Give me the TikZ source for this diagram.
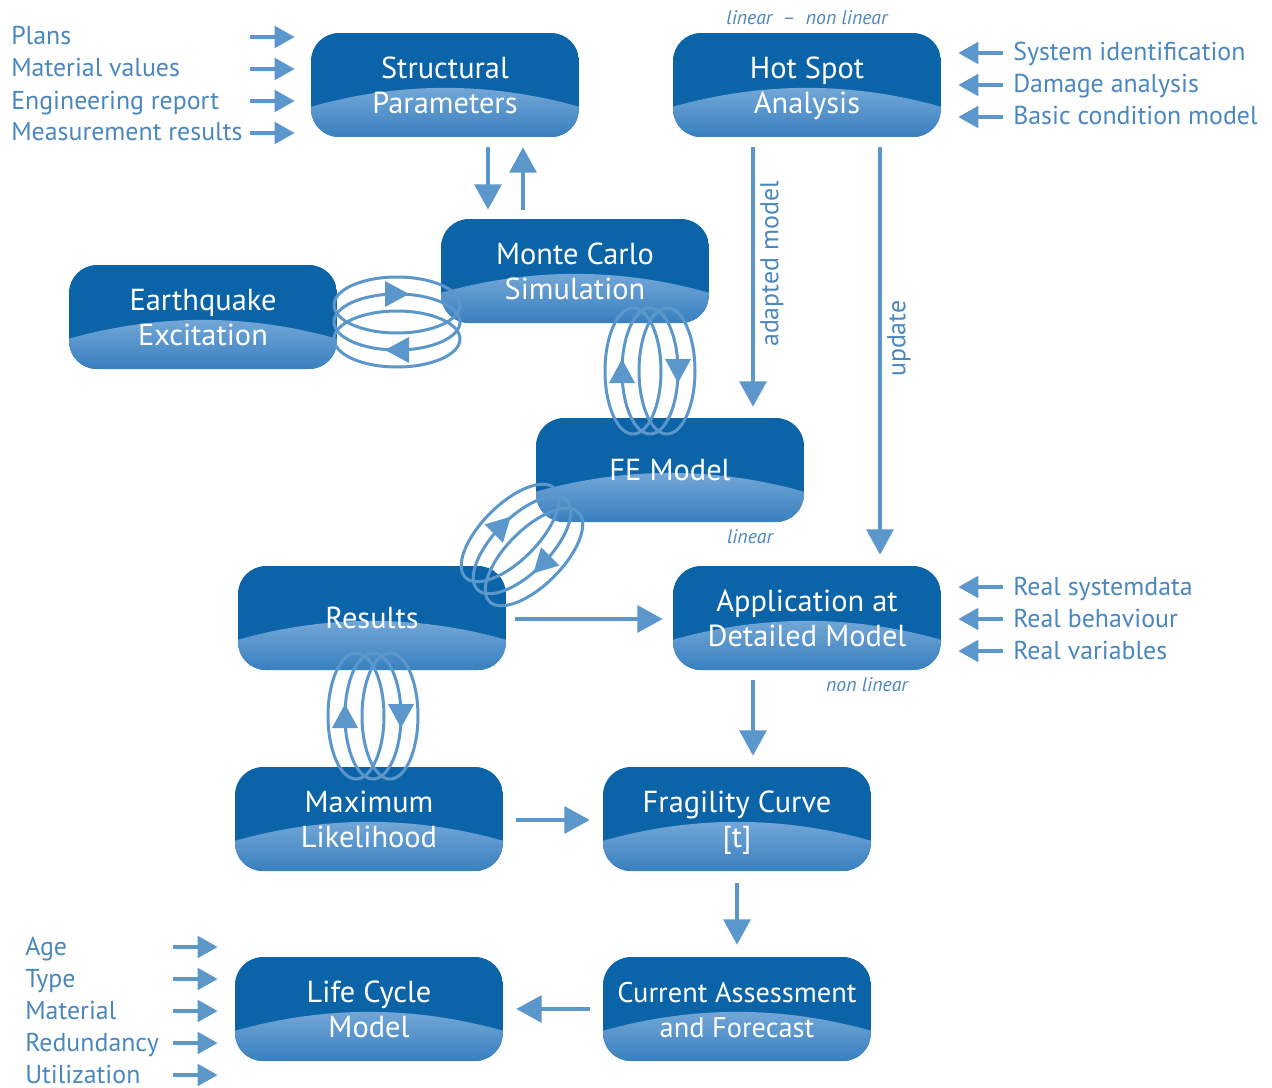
\documentclass[tikz,border=0pt]{standalone}
\usepackage{fontspec}
\setmainfont{PT Sans}
\usetikzlibrary{arrows.meta,calc}
\definecolor{boxdark}{RGB}{11,99,168}
\definecolor{lt}{RGB}{122,171,217}
\definecolor{lb}{RGB}{55,127,191}
\definecolor{arrowc}{RGB}{91,151,203}
\definecolor{textc}{RGB}{74,135,190}
\newcommand\mybox[5]{%
 \begin{scope}
  \clip[rounded corners=21pt] (#2-134,#3-52) rectangle (#2+134,#3+52);
  \fill[boxdark] (#2-134,#3-52) rectangle (#2+134,#3+52);
  \shade[top color=lt, bottom color=lb] (#2-135,#3+22) .. controls (#2-45,#3-3.5) and (#2+45,#3-3.5) .. (#2+135,#3+22) -- (#2+135,#3+53) -- (#2-135,#3+53) -- cycle;
 \end{scope}
 \node[boxframe] (#1) at (#2,#3) {};
 \node[boxtext,font=#5] (#1t) at (#2,#3+4) {#4};
}
\tikzset{
 boxframe/.style={minimum width=201pt, minimum height=78pt, inner sep=0pt},
 boxtext/.style={inner sep=0pt, text=white, align=center},
 arr/.style={draw=arrowc, line width=3pt, -{Triangle[length=19pt,width=20pt]}},
 sarr/.style={draw=arrowc, line width=3pt, -{Triangle[length=15pt,width=16pt]}},
 lab/.style={text=textc, font=\fontsize{19.4}{21}\selectfont, anchor=base west, inner sep=0pt},
 ital/.style={text=textc, font=\fontsize{14.8}{16}\selectfont\itshape, inner sep=0pt},
 coilline/.style={draw=arrowc, line width=2.25pt},
 coil/.pic={
  \foreach \o in {-17,0,17} \draw[coilline] (0,\o) ellipse [x radius=47.25pt, y radius=21pt];
  \fill[arrowc] (-12,-41) -- (12,-28) -- (-12,-15) -- cycle;
  \fill[arrowc] (12,15) -- (-12,28) -- (12,41) -- cycle;
 }
}
\begin{document}
\begin{tikzpicture}[x=0.75pt,y=-0.75pt]
\useasboundingbox (0,0) rectangle (1272,1088);
\def\bf{\fontsize{22.8}{26}\selectfont}
\mybox{sp}{445}{85}{\strut Structural\\\strut Parameters}{\bf}
\mybox{hs}{807}{85}{\strut Hot Spot\\\strut Analysis}{\bf}
\mybox{mc}{575}{271}{\strut Monte Carlo\\\strut Simulation}{\bf}
\mybox{eq}{203}{317}{\strut Earthquake\\\strut Excitation}{\bf}
\mybox{fe}{670}{470}{\strut FE Model}{\bf}
\mybox{res}{372}{618}{\strut Results}{\bf}
\mybox{app}{807}{618}{\strut Application at\\\strut Detailed Model}{\bf}
\mybox{ml}{369}{819}{\strut Maximum\\\strut Likelihood}{\bf}
\mybox{frag}{737}{819}{\strut Fragility Curve\\\strut {[t]}}{\bf}
\mybox{lc}{369}{1009}{\strut Life Cycle\\\strut Model}{\bf}
\mybox{cur}{737}{1009}{\strut Current Assessment\\\strut and Forecast}{\fontsize{21.3}{26}\selectfont}

% coils
\pic at (397,322) {coil};
\pic[rotate=90] at (650,371) {coil};
\pic[rotate=45] at (522,545) {coil};
\pic[rotate=90] at (373,716) {coil};

% main arrows
\draw[arr] ([shift={(43,10)}]sp.south) -- ([shift={(-87,-9)}]mc.north);
\draw[arr] ([shift={(-52,-9)}]mc.north) -- ([shift={(78,10)}]sp.south);
\draw[arr] ([shift={(-54,10)}]hs.south) -- node[pos=0.45, rotate=90, anchor=north, text=textc, font=\fontsize{19.4}{21}\selectfont, inner sep=4pt] (am) {adapted model} ([shift={(83,-11)}]fe.north);
\draw[arr] ([shift={(73,10)}]hs.south) -- node[pos=0.47, rotate=90, anchor=north, text=textc, font=\fontsize{19.4}{21}\selectfont, inner sep=4pt] (up) {update} ([shift={(73,-11)}]app.north);
\draw[arr] ([shift={(9,1)}]res.east) -- ([shift={(-10,1)}]app.west);
\draw[arr] ([shift={(-54,10)}]app.south) -- ([shift={(16,-11)}]frag.north);
\draw[arr] ([shift={(13,1)}]ml.east) -- ([shift={(-13,1)}]frag.west);
\draw[arr] ([shift={(0,12)}]frag.south) -- ([shift={(0,-12)}]cur.north);
\draw[arr] ([shift={(-13,0)}]cur.west) -- ([shift={(13,0)}]lc.east);

% italic labels
\node[ital] (lnl) at (807,18) {linear~ – ~non linear};
\node[ital] (lin) at (750,537) {linear};
\node[ital] (nl) at (867,685) {non linear};

% left top labels
\node[lab] (p1) at (11,45) {Plans};
\node[lab] (p2) at (11,77) {Material values};
\node[lab] (p3) at (11,109) {Engineering report};
\node[lab] (p4) at (11,141) {Measurement results};
\foreach \d in {-48,-16,16,48} \draw[sarr] ([shift={(-61,\d)}]sp.west) -- ([shift={(-16,\d)}]sp.west);

% right top labels
\node[lab] (h1) at (1013,61) {System identification};
\node[lab] (h2) at (1013,93) {Damage analysis};
\node[lab] (h3) at (1013,125) {Basic condition model};
\foreach \d in {-32,0,32} \draw[sarr] ([shift={(62,\d)}]hs.east) -- ([shift={(17,\d)}]hs.east);

% right middle labels
\node[lab] (r1) at (1013,595) {Real systemdata};
\node[lab] (r2) at (1013,627) {Real behaviour};
\node[lab] (r3) at (1013,659) {Real variables};
\foreach \d in {-31,1,33} \draw[sarr] ([shift={(62,\d)}]app.east) -- ([shift={(17,\d)}]app.east);

% bottom left labels
\node[lab] (b1) at (25,955) {Age};
\node[lab] (b2) at (25,987) {Type};
\node[lab] (b3) at (25,1019) {Material};
\node[lab] (b4) at (25,1051) {Redundancy};
\node[lab] (b5) at (25,1083) {Utilization};
\foreach \d in {-62,-30,2,34,66} \draw[sarr] ([shift={(-62,\d)}]lc.west) -- ([shift={(-17,\d)}]lc.west);
\end{tikzpicture}
\end{document}
